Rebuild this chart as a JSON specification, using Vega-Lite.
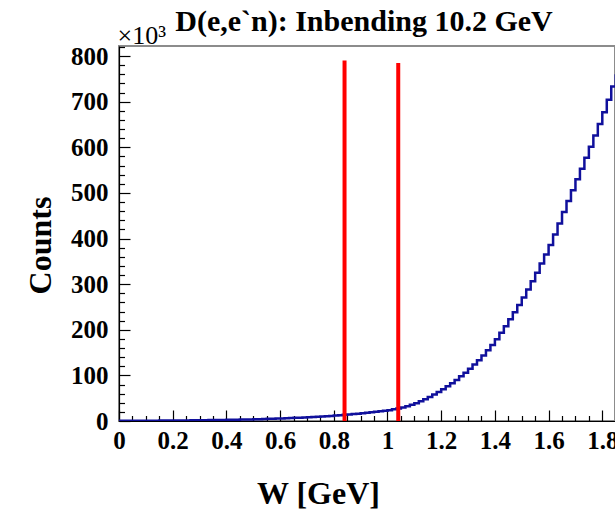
{
  "$schema": "https://vega.github.io/schema/vega-lite/v6.json",
  "width": 496,
  "height": 375,
  "autosize": {"type": "none"},
  "padding": {"left": 119, "top": 46, "right": 0, "bottom": 88},
  "background": "white",
  "title": {
    "text": "D(e,e`n): Inbending 10.2 GeV",
    "font": "Liberation Serif",
    "fontWeight": "bold",
    "fontSize": 30,
    "color": "black",
    "anchor": "middle",
    "frame": "group",
    "dx": -3,
    "dy": 15,
    "offset": 0
  },
  "config": {
    "view": {"stroke": "#8c8c8c", "strokeWidth": 2},
    "axis": {
      "grid": false,
      "domainColor": "black",
      "domainWidth": 1.2,
      "tickColor": "black",
      "tickWidth": 1.2,
      "labelFont": "Liberation Serif",
      "labelFontWeight": "bold",
      "labelFontSize": 25,
      "labelColor": "black",
      "titleFont": "Liberation Serif",
      "titleFontWeight": "bold",
      "titleFontSize": 32,
      "titleColor": "black"
    }
  },
  "layer": [
    {
      "data": {"values": [
        {"w": 0, "n": 0.32}, {"w": 0.0167, "n": 0.37}, {"w": 0.0333, "n": 0.43}, {"w": 0.05, "n": 0.48},
        {"w": 0.0667, "n": 0.53}, {"w": 0.0833, "n": 0.58}, {"w": 0.1, "n": 0.63}, {"w": 0.1167, "n": 0.7},
        {"w": 0.1333, "n": 0.77}, {"w": 0.15, "n": 0.83}, {"w": 0.1667, "n": 0.9}, {"w": 0.1833, "n": 0.97},
        {"w": 0.2, "n": 1.05}, {"w": 0.2167, "n": 1.15}, {"w": 0.2333, "n": 1.25}, {"w": 0.25, "n": 1.35},
        {"w": 0.2667, "n": 1.45}, {"w": 0.2833, "n": 1.55}, {"w": 0.3, "n": 1.67}, {"w": 0.3167, "n": 1.8},
        {"w": 0.3333, "n": 1.93}, {"w": 0.35, "n": 2.07}, {"w": 0.3667, "n": 2.2}, {"w": 0.3833, "n": 2.33},
        {"w": 0.4, "n": 2.5}, {"w": 0.4167, "n": 2.7}, {"w": 0.4333, "n": 2.9}, {"w": 0.45, "n": 3.1},
        {"w": 0.4667, "n": 3.3}, {"w": 0.4833, "n": 3.5}, {"w": 0.5, "n": 3.76}, {"w": 0.5167, "n": 4.08},
        {"w": 0.5333, "n": 4.39}, {"w": 0.55, "n": 4.71}, {"w": 0.5667, "n": 5.03}, {"w": 0.5833, "n": 5.34},
        {"w": 0.6, "n": 5.71}, {"w": 0.6167, "n": 6.13}, {"w": 0.6333, "n": 6.54}, {"w": 0.65, "n": 6.96},
        {"w": 0.6667, "n": 7.38}, {"w": 0.6833, "n": 7.79}, {"w": 0.7, "n": 8.29}, {"w": 0.7167, "n": 8.88},
        {"w": 0.7333, "n": 9.46}, {"w": 0.75, "n": 10.04}, {"w": 0.7667, "n": 10.63}, {"w": 0.7833, "n": 11.21},
        {"w": 0.8, "n": 11.92}, {"w": 0.8167, "n": 12.75}, {"w": 0.8333, "n": 13.58}, {"w": 0.85, "n": 14.42},
        {"w": 0.8667, "n": 15.25}, {"w": 0.8833, "n": 16.08}, {"w": 0.9, "n": 17.04}, {"w": 0.9167, "n": 18.13},
        {"w": 0.9333, "n": 19.21}, {"w": 0.95, "n": 20.29}, {"w": 0.9667, "n": 21.38}, {"w": 0.9833, "n": 22.46},
        {"w": 1.0, "n": 23.83}, {"w": 1.0167, "n": 25.5}, {"w": 1.0333, "n": 27.17}, {"w": 1.05, "n": 29.5},
        {"w": 1.0667, "n": 32.5}, {"w": 1.0833, "n": 35.5}, {"w": 1.1, "n": 39.17}, {"w": 1.1167, "n": 43.5},
        {"w": 1.1333, "n": 47.83}, {"w": 1.15, "n": 52.67}, {"w": 1.1667, "n": 58.0}, {"w": 1.1833, "n": 63.33},
        {"w": 1.2, "n": 69.33}, {"w": 1.2167, "n": 76.0}, {"w": 1.2333, "n": 82.67}, {"w": 1.25, "n": 90.0},
        {"w": 1.2667, "n": 98.0}, {"w": 1.2833, "n": 106.0}, {"w": 1.3, "n": 114.67}, {"w": 1.3167, "n": 124.0},
        {"w": 1.3333, "n": 133.33}, {"w": 1.35, "n": 143.67}, {"w": 1.3667, "n": 155.0}, {"w": 1.3833, "n": 166.33},
        {"w": 1.4, "n": 179.17}, {"w": 1.4167, "n": 193.5}, {"w": 1.4333, "n": 207.83}, {"w": 1.45, "n": 222.83},
        {"w": 1.4667, "n": 238.5}, {"w": 1.4833, "n": 254.17}, {"w": 1.5, "n": 270.83}, {"w": 1.5167, "n": 288.5},
        {"w": 1.5333, "n": 306.17}, {"w": 1.55, "n": 325.0}, {"w": 1.5667, "n": 345.0}, {"w": 1.5833, "n": 365.0},
        {"w": 1.6, "n": 386.0}, {"w": 1.6167, "n": 409.0}, {"w": 1.6333, "n": 433.0}, {"w": 1.65, "n": 458.0},
        {"w": 1.6667, "n": 482.0}, {"w": 1.6833, "n": 506.0}, {"w": 1.7, "n": 530.0}, {"w": 1.7167, "n": 553.0},
        {"w": 1.7333, "n": 577.0}, {"w": 1.75, "n": 601.0}, {"w": 1.7667, "n": 626.0}, {"w": 1.7833, "n": 651.0},
        {"w": 1.8, "n": 677.0}, {"w": 1.8167, "n": 704.0}, {"w": 1.8333, "n": 733.0}, {"w": 1.85, "n": 760.0}
      ]},
      "mark": {"type": "line", "interpolate": "step-after", "color": "#10109c", "strokeWidth": 2.5, "clip": true},
      "encoding": {
        "x": {
          "field": "w", "type": "quantitative",
          "scale": {"domain": [0, 1.8473], "nice": false, "zero": false},
          "axis": {
            "orient": "bottom",
            "values": [0, 0.2, 0.4, 0.6, 0.8, 1, 1.2, 1.4, 1.6, 1.8],
            "format": "~g",
            "tickSize": -11,
            "labelPadding": 18,
            "labelFlush": false,
            "labelOverlap": false,
            "title": "W [GeV]",
            "titleX": 199,
            "titleY": 82,
            "titleAlign": "center",
            "titleBaseline": "alphabetic"
          }
        },
        "y": {
          "field": "n", "type": "quantitative",
          "scale": {"domain": [0, 822], "nice": false},
          "axis": {
            "orient": "left",
            "values": [0, 100, 200, 300, 400, 500, 600, 700, 800],
            "tickSize": -11,
            "labelPadding": 22,
            "labelFlush": false,
            "labelOverlap": false,
            "title": "Counts",
            "titleAngle": -90,
            "titleX": -69,
            "titleY": 199,
            "titleAlign": "center",
            "titleBaseline": "alphabetic"
          }
        }
      }
    },
    {
      "data": {"values": [
        {"w": 0.84, "top": 790},
        {"w": 1.04, "top": 785}
      ]},
      "mark": {"type": "rule", "color": "#ff0000", "strokeWidth": 4},
      "encoding": {
        "x": {
          "field": "w", "type": "quantitative",
          "axis": {
            "orient": "bottom",
            "values": [0.05, 0.1, 0.15, 0.25, 0.3, 0.35, 0.45, 0.5, 0.55, 0.65, 0.7, 0.75, 0.85, 0.9, 0.95, 1.05, 1.1, 1.15, 1.25, 1.3, 1.35, 1.45, 1.5, 1.55, 1.65, 1.7, 1.75],
            "tickSize": -5.5,
            "labels": false,
            "domain": false,
            "title": null
          }
        },
        "y": {
          "field": "top", "type": "quantitative",
          "axis": {
            "orient": "left",
            "values": [20, 40, 60, 80, 120, 140, 160, 180, 220, 240, 260, 280, 320, 340, 360, 380, 420, 440, 460, 480, 520, 540, 560, 580, 620, 640, 660, 680, 720, 740, 760, 780, 820],
            "tickSize": -5.5,
            "labels": false,
            "domain": false,
            "title": "×10³",
            "titleAngle": 0,
            "titleX": -2,
            "titleY": -3,
            "titleAlign": "left",
            "titleBaseline": "alphabetic",
            "titleFontWeight": "normal",
            "titleFontSize": 26
          }
        },
        "y2": {"datum": 0}
      }
    }
  ],
  "resolve": {"axis": {"x": "independent", "y": "independent"}}
}
